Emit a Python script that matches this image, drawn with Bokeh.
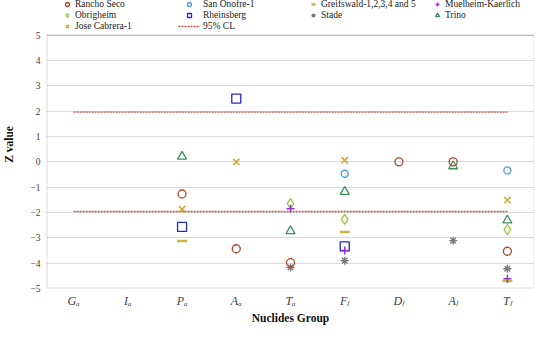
from bokeh.plotting import figure
from bokeh.models import FactorRange, Range1d, FixedTicker, Legend, LegendItem, BoxAnnotation
from bokeh.embed import file_html
from bokeh.resources import INLINE

categories = ["G\u2090", "I\u2090", "P\u2090", "A\u2090", "T\u2090", "F\u2097", "D\u2097", "A\u2097", "T\u2097"]
y_ticks = [-5, -4, -3, -2, -1, 0, 1, 2, 3, 4, 5]

rancho_seco = [None, None, -1.27, -3.43, -3.98, None, 0.0, 0.0, -3.53]
san_onofre = [None, None, None, None, None, -0.47, None, None, -0.34]
greifswald = [None, None, -3.12, None, None, -2.77, None, None, -4.70]
muelheim = [None, None, None, None, -1.85, -3.50, None, None, -4.62]
obrigheim = [None, None, None, None, -1.65, -2.27, None, None, -2.68]
rheinsberg = [None, None, -2.57, 2.50, None, -3.34, None, None, None]
stade = [None, None, None, None, -4.17, -3.90, None, -3.11, -4.22]
trino = [None, None, 0.21, None, -2.73, -1.18, None, -0.17, -2.31]
jose_cabrera = [None, None, -1.87, 0.0, None, 0.06, None, None, -1.51]
cl_95 = 1.96

FONT = "Liberation Serif"
CL_COLOR = "#c0504d"
Y_MIN, Y_MAX = -5, 5
Y_TOP_ROOM = 6.37  # range end leaves room above the box for the legend

# name, values, marker, color, size, line width
series = [
    ("Rheinsberg", rheinsberg, "square", "#2828c8", 9, 1.3),
    ("Greifswald-1,2,3,4 and 5", greifswald, "dash", "#c8b93e", 10, 2.5),
    ("Obrigheim", obrigheim, "diamond", "#9dc243", 10, 1.3),
    ("Stade", stade, "asterisk", "#7a7a7a", 8, 1.3),
    ("Trino", trino, "triangle", "#3f8f5f", 9, 1.3),
    ("Jose Cabrera-1", jose_cabrera, "x", "#d4a52a", 9, 1.5),
    ("San Onofre-1", san_onofre, "circle", "#4f9adb", 7, 1.3),
    ("Rancho Seco", rancho_seco, "circle", "#a8482e", 8, 1.3),
    ("Muelheim-Kaerlich", muelheim, "cross", "#9933cc", 8, 1.5),
]

p = figure(width=534, height=326, output_backend="svg", toolbar_location=None,
           x_range=FactorRange(*categories, range_padding=0), y_range=Range1d(Y_MIN, Y_TOP_ROOM),
           min_border_left=42, min_border_right=0, min_border_top=0, min_border_bottom=35)

p.outline_line_color = None
p.xgrid.grid_line_color = None
p.ygrid.grid_line_color = "#d9d9d9"
p.ygrid.grid_line_width = 1

# plot box from -5 to 5
p.add_layout(BoxAnnotation(bottom=Y_MIN, top=Y_MAX, fill_alpha=0, line_color="#8c8c8c",
                           line_width=2, level="overlay"))

p.yaxis.ticker = FixedTicker(ticks=y_ticks)
for ax in (p.xaxis[0], p.yaxis[0]):
    ax.axis_line_color = None
    ax.major_tick_line_color = None
    ax.minor_tick_line_color = None
    ax.major_tick_out = 0
    ax.major_tick_in = 0
    ax.minor_tick_out = 0
    ax.minor_tick_in = 0
    ax.major_label_text_font = FONT
    ax.major_label_text_color = "#404040"
    ax.axis_label_text_font = FONT
    ax.axis_label_text_font_style = "bold"
    ax.axis_label_text_font_size = "11.5px"
    ax.axis_label_text_color = "#111111"

p.yaxis.major_label_text_font_size = "9.5px"
p.yaxis.major_label_standoff = 6
p.yaxis.axis_label = "Z value"
p.yaxis.axis_label_standoff = 12
p.xaxis.major_label_text_font_size = "12px"
p.xaxis.major_label_text_font_style = "italic"
p.xaxis.major_label_standoff = 5
p.xaxis.axis_label = "Nuclides Group"
p.xaxis.axis_label_standoff = 1

r = {}
r["95% CL"] = p.line(categories, [cl_95] * len(categories), line_color=CL_COLOR, line_dash="2 1", line_width=1.3)
p.line(categories, [-cl_95] * len(categories), line_color=CL_COLOR, line_dash="2 1", line_width=1.3)

for name, vals, marker, color, size, lw in series:
    xs = [c for c, v in zip(categories, vals) if v is not None]
    ys = [v for v in vals if v is not None]
    r[name] = p.scatter(xs, ys, marker=marker, size=size, line_color=color, line_width=lw, fill_color=None)


def make_legend(names, x, y, gw):
    lg = Legend(items=[LegendItem(label=n, renderers=[r[n]]) for n in names],
                location=(x, y), orientation="vertical",
                label_text_font=FONT, label_text_font_size="9.5px", label_text_color="#222222",
                label_height=10, glyph_height=10, glyph_width=gw, spacing=1,
                padding=0, margin=0, label_standoff=3,
                border_line_color=None, background_fill_alpha=0)
    p.add_layout(lg, "center")


make_legend(["Rancho Seco", "Obrigheim", "Jose Cabrera-1"], 16, 257, 10)
make_legend(["San Onofre-1", "Rheinsberg", "95% CL"], 132, 257, 22)
make_legend(["Greifswald-1,2,3,4 and 5", "Stade"], 262, 268, 10)
make_legend(["Muelheim-Kaerlich", "Trino"], 386, 268, 10)

open("out.html", "w").write(file_html(p, INLINE))
